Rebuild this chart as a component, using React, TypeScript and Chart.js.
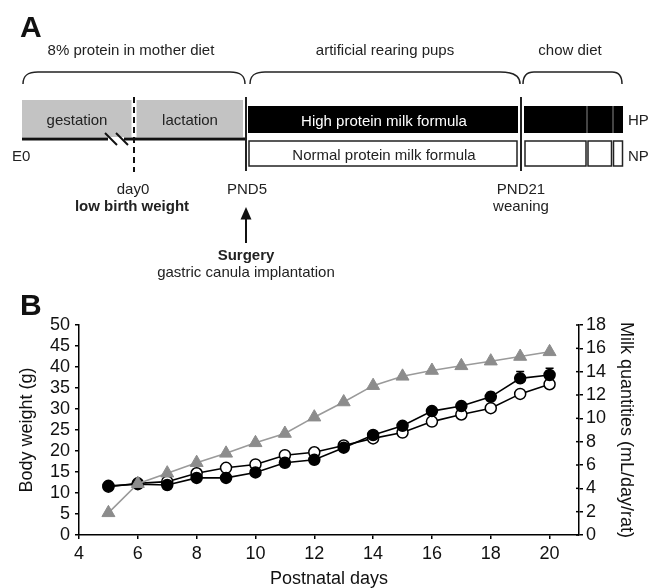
import React, { useEffect, useRef } from "react";
import { Chart, registerables } from "chart.js";

Chart.register(...registerables);

// ---- Data (panel B) ----
const days = [5, 6, 7, 8, 9, 10, 11, 12, 13, 14, 15, 16, 17, 18, 19, 20];
const weightHP = [11.7, 12.1, 11.9, 13.6, 13.6, 14.9, 17.2, 17.9, 20.8, 23.8, 26.0, 29.5, 30.7, 32.9, 37.3, 38.1];
const weightNP = [11.5, 12.3, 12.7, 14.7, 16.0, 16.8, 19.0, 19.7, 21.3, 23.0, 24.4, 27.0, 28.7, 30.2, 33.6, 35.9];
const milkQuantities = [1.9, 4.4, 5.3, 6.2, 7.0, 7.9, 8.7, 10.1, 11.4, 12.8, 13.6, 14.1, 14.5, 14.9, 15.3, 15.7];
const weightHPErrUp = [0, 0, 0, 0, 0, 0, 0, 0, 0, 0, 0, 0, 0.7, 1.0, 1.6, 1.6];

const xTitle = "Postnatal days";
const yLeftTitle = "Body weight (g)";
const yRightTitle = "Milk quantities (mL/day/rat)";

const FONT = "'Liberation Sans', Arial, Helvetica, sans-serif";

const errorBarPlugin = {
  id: "errorBars",
  beforeDatasetsDraw(chart: any) {
    const ctx = chart.ctx;
    const xs = chart.scales.x;
    const ys = chart.scales.y;
    ctx.save();
    ctx.strokeStyle = "#000";
    ctx.lineWidth = 1.5;
    days.forEach((d, i) => {
      const e = weightHPErrUp[i];
      if (!e) return;
      const px = xs.getPixelForValue(d);
      const y0 = ys.getPixelForValue(weightHP[i]);
      const y1 = ys.getPixelForValue(weightHP[i] + e);
      ctx.beginPath();
      ctx.moveTo(px, y0);
      ctx.lineTo(px, y1);
      ctx.moveTo(px - 4, y1);
      ctx.lineTo(px + 4, y1);
      ctx.stroke();
    });
    ctx.restore();
  },
  afterDraw(chart: any) {
    const ctx = chart.ctx;
    const s = chart.scales.y1;
    ctx.save();
    ctx.strokeStyle = "#000";
    ctx.lineWidth = 1.5;
    s.ticks.forEach((t: any) => {
      const py = s.getPixelForValue(t.value);
      ctx.beginPath();
      ctx.moveTo(s.left - 3, py);
      ctx.lineTo(s.left, py);
      ctx.stroke();
    });
    ctx.restore();
  },
};

function ChartB() {
  const ref = useRef<HTMLCanvasElement | null>(null);
  useEffect(() => {
    if (!ref.current) return;
    const tickFont = { family: FONT, size: 18, lineHeight: 1 };
    const titleFont = { family: FONT, size: 18, lineHeight: 1.2 };
    const chart = new Chart(ref.current, {
      type: "line",
      data: {
        datasets: [
          {
            label: "HP",
            data: days.map((d, i) => ({ x: d, y: weightHP[i] })),
            yAxisID: "y",
            borderColor: "#000",
            borderWidth: 1.6,
            pointRadius: 5.5,
            pointBackgroundColor: "#000",
            pointBorderColor: "#000",
            pointBorderWidth: 1.5,
            order: 1,
          },
          {
            label: "NP",
            data: days.map((d, i) => ({ x: d, y: weightNP[i] })),
            yAxisID: "y",
            borderColor: "#000",
            borderWidth: 1.6,
            pointRadius: 5.5,
            pointBackgroundColor: "#fff",
            pointBorderColor: "#000",
            pointBorderWidth: 1.5,
            order: 2,
          },
          {
            label: "Milk",
            data: days.map((d, i) => ({ x: d, y: milkQuantities[i] })),
            yAxisID: "y1",
            borderColor: "#9a9a9a",
            borderWidth: 1.6,
            pointStyle: "triangle",
            pointRadius: 7.5,
            pointBackgroundColor: "#8c8c8c",
            pointBorderColor: "#8c8c8c",
            pointBorderWidth: 1,
            order: 0,
          },
        ],
      },
      options: {
        animation: false,
        responsive: false,
        maintainAspectRatio: false,
        layout: { padding: { top: 40, left: 0, right: 0, bottom: 0 } },
        plugins: { legend: { display: false }, tooltip: { enabled: false } },
        scales: {
          x: {
            type: "linear",
            min: 4,
            max: 21,
            ticks: { stepSize: 2, includeBounds: false, autoSkip: false, font: tickFont, color: "#111", padding: 6, maxRotation: 0 },
            grid: { drawOnChartArea: false, tickLength: 4, color: "#000", lineWidth: 1.5 },
            border: { color: "#000", width: 1.5 },
            title: { display: true, text: xTitle, font: { family: FONT, size: 18, lineHeight: 1 }, color: "#111", padding: { top: 0, bottom: 0 } },
            afterFit: (s: any) => { s.height = 53; },
          },
          y: {
            position: "left",
            min: 0,
            max: 50,
            ticks: { stepSize: 5, autoSkip: false, font: tickFont, color: "#111", padding: 5 },
            grid: { drawOnChartArea: false, tickLength: 4, color: "#000", lineWidth: 1.5 },
            border: { color: "#000", width: 1.5 },
            title: { display: true, text: yLeftTitle, font: titleFont, color: "#111", padding: { top: 16, bottom: 0 } },
            afterFit: (s: any) => { s.width = 79; },
          },
          y1: {
            position: "right",
            min: 0,
            max: 18,
            ticks: { stepSize: 2, autoSkip: false, font: tickFont, color: "#111", padding: 3 },
            grid: { drawOnChartArea: false, tickLength: 4, color: "#000", lineWidth: 1.5 },
            border: { color: "#000", width: 1.5 },
            title: { display: true, text: yRightTitle, font: titleFont, color: "#111", padding: { top: 20, bottom: 0 } },
            afterFit: (s: any) => { s.width = 78; },
          },
        },
      },
      plugins: [errorBarPlugin],
    } as any);
    return () => chart.destroy();
  }, []);
  return (
    <canvas
      ref={ref}
      width={657}
      height={303}
      style={{ position: "absolute", left: 0, top: 285, width: 657, height: 303 }}
    />
  );
}

function PanelA() {
  const t = { fontFamily: FONT, fontSize: 15, fill: "#222" } as any;
  const brace = { fill: "none", stroke: "#222", strokeWidth: 1.5 } as any;
  return (
    <svg
      width={657}
      height={588}
      style={{ position: "absolute", left: 0, top: 0, pointerEvents: "none" }}
    >
      <text x={20} y={37} style={{ fontFamily: FONT, fontSize: 30, fontWeight: "bold" }} fill="#111">A</text>
      <text x={20} y={315} style={{ fontFamily: FONT, fontSize: 30, fontWeight: "bold" }} fill="#111">B</text>

      <text x={131} y={55} textAnchor="middle" style={t}>8% protein in mother diet</text>
      <text x={385} y={55} textAnchor="middle" style={t}>artificial rearing pups</text>
      <text x={570} y={55} textAnchor="middle" style={t}>chow diet</text>

      <path d="M23,84 C23,76 27,72 38,72 L230,72 C241,72 245,76 245,84" style={brace} />
      <path d="M250,84 C250,76 254,72 265,72 L500,72 C513,72 520,76 520,84" style={brace} />
      <path d="M523,84 C523,76 526,72 534,72 L612,72 C619,72 622,76 622,84" style={brace} />

      {/* grey maternal boxes */}
      <rect x={22} y={100} width={109.5} height={37} fill="#c3c3c3" />
      <rect x={136.5} y={100} width={106.5} height={37} fill="#c3c3c3" />
      <text x={77} y={125} textAnchor="middle" style={t}>gestation</text>
      <text x={190} y={125} textAnchor="middle" style={t}>lactation</text>

      {/* baseline with break */}
      <line x1={22} y1={139} x2={108} y2={139} stroke="#111" strokeWidth={3} />
      <line x1={124} y1={139} x2={246} y2={139} stroke="#111" strokeWidth={3} />
      <line x1={105} y1={133} x2={117} y2={145} stroke="#111" strokeWidth={2} />
      <line x1={116} y1={133} x2={128} y2={145} stroke="#111" strokeWidth={2} />

      <line x1={134} y1={97} x2={134} y2={172} stroke="#111" strokeWidth={2} strokeDasharray="6 4" />
      <line x1={246} y1={97} x2={246} y2={171} stroke="#222" strokeWidth={2} />
      <line x1={521} y1={97} x2={521} y2={171} stroke="#222" strokeWidth={2} />

      {/* HP bars */}
      <rect x={248} y={106} width={270} height={27} fill="#000" />
      <text x={384} y={126} textAnchor="middle" style={{ ...t, fill: "#fff" }}>High protein milk formula</text>
      <rect x={524} y={106} width={99} height={27} fill="#000" />
      <line x1={587} y1={106} x2={587} y2={133} stroke="#888" strokeWidth={1} />
      <line x1={613} y1={106} x2={613} y2={133} stroke="#888" strokeWidth={1} />
      <text x={628} y={125} style={t}>HP</text>

      {/* NP bars */}
      <rect x={249} y={141} width={268} height={25} fill="#fff" stroke="#222" strokeWidth={1.5} />
      <text x={384} y={160} textAnchor="middle" style={t}>Normal protein milk formula</text>
      <rect x={525} y={141} width={61} height={25} fill="#fff" stroke="#222" strokeWidth={1.5} />
      <rect x={588} y={141} width={23.5} height={25} fill="#fff" stroke="#222" strokeWidth={1.5} />
      <rect x={613.5} y={141} width={9} height={25} fill="#fff" stroke="#222" strokeWidth={1.5} />
      <text x={628} y={161} style={t}>NP</text>

      <text x={12} y={161} style={t}>E0</text>
      <text x={133} y={194} textAnchor="middle" style={t}>day0</text>
      <text x={132} y={211} textAnchor="middle" style={{ ...t, fontWeight: "bold" }}>low birth weight</text>
      <text x={247} y={194} textAnchor="middle" style={t}>PND5</text>
      <text x={521} y={194} textAnchor="middle" style={t}>PND21</text>
      <text x={521} y={211} textAnchor="middle" style={t}>weaning</text>

      {/* surgery arrow */}
      <line x1={246} y1={218} x2={246} y2={243} stroke="#111" strokeWidth={2} />
      <polygon points="246,207 240.5,219.5 251.5,219.5" fill="#111" />
      <text x={246} y={260} textAnchor="middle" style={{ ...t, fontWeight: "bold" }}>Surgery</text>
      <text x={246} y={277} textAnchor="middle" style={t}>gastric canula implantation</text>
    </svg>
  );
}

export default function App() {
  return (
    <div style={{ position: "fixed", left: 0, top: 0, width: 657, height: 588, background: "#fff" }}>
      <ChartB />
      <PanelA />
    </div>
  );
}
